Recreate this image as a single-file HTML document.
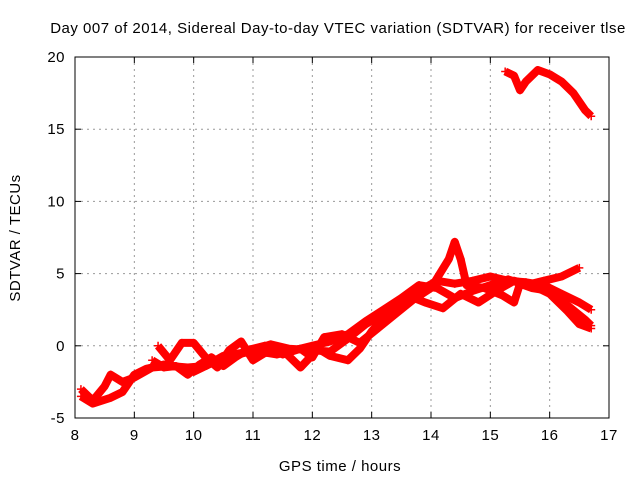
<!DOCTYPE html>
<html><head><meta charset="utf-8"><style>
body{margin:0;background:#fff}
text{font-family:"Liberation Sans",sans-serif;font-size:15px;letter-spacing:0.5px;fill:#000}
</style></head><body>
<svg id="c" width="640" height="480">
<rect width="640" height="480" fill="#fff"/>
<g id="grid"></g><g id="series"></g><g id="axes"></g>
<text x="338" y="33" text-anchor="middle">Day 007 of 2014, Sidereal Day-to-day VTEC variation (SDTVAR) for receiver tlse</text>
<text x="340" y="471" text-anchor="middle">GPS time / hours</text>
<text transform="translate(20,238) rotate(-90)" text-anchor="middle">SDTVAR / TECUs</text>
</svg>
<script>
const xTicks=[8,9,10,11,12,13,14,15,16,17];
const yTicks=[-5,0,5,10,15,20];
const s1Hours=[8.1,8.3,8.6,8.8,9.0,9.2,9.5,9.8,10.0,10.3,10.6,11.0,11.3,11.6,12.0,12.3,12.6,12.9,13.2,13.5,13.8,14.1,14.4,14.7,15.0,15.3,15.6,15.9,16.2,16.5,16.7];
const s1Vals=[-3.5,-4,-3.6,-3.2,-2,-1.6,-1.3,-1.5,-1.8,-1.2,-0.8,-0.3,0.1,-0.2,-0.3,-0.4,0.5,1.5,2.2,3,3.8,4.5,4.3,4.5,4.8,4.5,4.4,4.2,3.6,3,2.5];
const s2Hours=[8.1,8.3,8.5,8.6,8.8,9.0,9.3,9.6,9.9,10.2,10.5,10.8,11.1,11.4,11.7,12.0,12.3,12.6,12.9,13.2,13.5,13.8,14.1,14.4,14.7,15.0,15.3,15.6,15.9,16.2,16.5];
const s2Vals=[-3,-3.8,-2.8,-2,-2.5,-2.2,-1.5,-1.4,-1.5,-1.4,-0.7,-0.5,-0.4,-0.6,-0.3,0,0.3,0.8,1.7,2.5,3.3,4.2,4.0,3.3,3.8,4.2,4.6,4.2,4.5,4.8,5.4];
const s3Hours=[9.4,9.6,9.8,10.0,10.2,10.4,10.6,10.8,11.0,11.2,11.5,11.8,12.1,12.3,12.6,12.8,13.0,13.3,13.6,13.9,14.2,14.5,14.8,15.1,15.4,15.7,16.0,16.3,16.5,16.7];
const s3Vals=[0,-1,0.2,0.2,-0.8,-1.5,-0.3,0.3,-1,-0.5,-0.3,-1.5,-0.2,-0.7,-1.0,-0.2,1.0,2.4,3.5,3.0,2.6,3.6,3.0,3.8,4.5,4.2,3.6,2.4,1.5,1.2];
const s4Hours=[9.3,9.5,9.7,9.9,10.1,10.3,10.5,10.7,10.9,11.2,11.5,11.8,12.0,12.2,12.5,12.8,13.1,13.4,13.7,14.0,14.3,14.4,14.5,14.6,14.9,15.2,15.4,15.5,15.7,16.0,16.3,16.6,16.7];
const s4Vals=[-1,-1.5,-1.4,-2.0,-1.3,-0.8,-1.4,-0.8,-0.3,0,-0.6,-0.2,-0.8,0.6,0.8,0.2,1.2,2.2,3.2,4.0,6.0,7.2,6.0,4.2,4.0,3.5,3.0,4.3,4.0,3.8,2.8,1.8,1.4];
const topHours=[15.25,15.4,15.5,15.6,15.8,16.0,16.2,16.4,16.6,16.7];
const topVals=[19,18.7,17.7,18.3,19.1,18.8,18.3,17.5,16.3,15.9];
const L=75,R=609,T=57,B=418;
const xs=h=>L+(h-8)*(R-L)/9, ys=v=>T+(20-v)*(B-T)/25;
const NS="http://www.w3.org/2000/svg";
function mk(tag,attrs,parent){const e=document.createElementNS(NS,tag);for(const k in attrs)e.setAttribute(k,attrs[k]);parent.appendChild(e);return e;}
const grid=document.getElementById('grid'),axes=document.getElementById('axes'),ser=document.getElementById('series');
xTicks.forEach(t=>{const x=xs(t);
 if(t>8&&t<17){const g=mk('line',{x1:x,x2:x,y1:T,y2:B,stroke:'#999','stroke-dasharray':'2,4'},grid);}
 mk('line',{x1:x,x2:x,y1:B,y2:B-6,stroke:'#000'},axes);mk('line',{x1:x,x2:x,y1:T,y2:T+6,stroke:'#000'},axes);
 const tx=mk('text',{x:x,y:B+22,'text-anchor':'middle'},axes);tx.textContent=t;
 });
yTicks.forEach(t=>{const y=ys(t);
 if(t>-5&&t<20){const g=mk('line',{x1:L,x2:R,y1:y,y2:y,stroke:'#999','stroke-dasharray':'2,4'},grid);}
 mk('line',{x1:L,x2:L+6,y1:y,y2:y,stroke:'#000'},axes);mk('line',{x1:R,x2:R-6,y1:y,y2:y,stroke:'#000'},axes);
 const tx=mk('text',{x:L-10,y:y+5,'text-anchor':'end'},axes);tx.textContent=t;
 });
const fr=mk('rect',{x:L,y:T,width:R-L,height:B-T,fill:'none',stroke:'#000'},axes);

[[s1Hours,s1Vals,'series-track-1'],[s2Hours,s2Vals,'series-track-2'],[s3Hours,s3Vals,'series-track-3'],[s4Hours,s4Vals,'series-track-4'],[topHours,topVals,'series-high']].forEach(([hs,vs,nm])=>{
 const g=mk('g',{},ser);
 const pts=hs.map((h,i)=>xs(h)+','+ys(vs[i])).join(' ');
 mk('polyline',{points:pts,fill:'none',stroke:'#f00','stroke-width':8,'stroke-linejoin':'round'},g);
 hs.forEach((h,i)=>{const x=xs(h),y=ys(vs[i]);
  const p=mk('path',{d:`M${x-4},${y}H${x+4}M${x},${y-4}V${y+4}`,stroke:'#f00','stroke-width':1.5},g);
  });
});
</script>
</body></html>
